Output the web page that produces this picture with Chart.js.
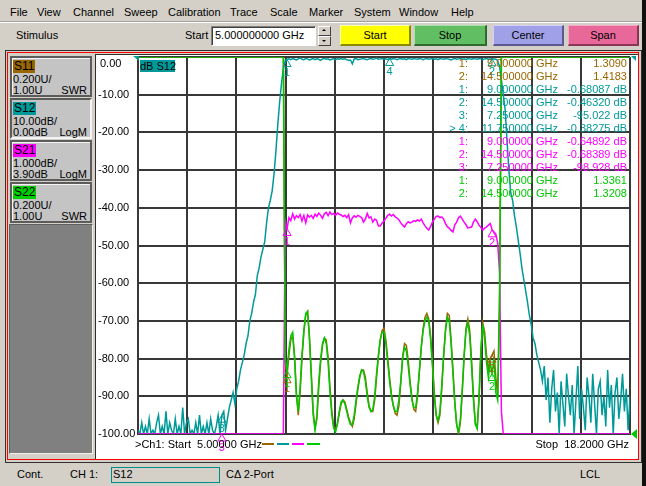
<!DOCTYPE html>
<html><head><meta charset="utf-8">
<script src="https://cdn.jsdelivr.net/npm/chart.js@4.4.0/dist/chart.umd.min.js"></script>
<style>
html,body{margin:0;padding:0;}
body{width:646px;height:486px;position:relative;overflow:hidden;background:#d4d0c8;font-family:"Liberation Sans",Arial,sans-serif;font-size:11px;color:#000;}
.a{position:absolute;white-space:pre;line-height:13px;}
.btn{position:absolute;top:25px;height:21px;box-sizing:border-box;text-align:center;line-height:19px;border:1px solid;border-width:1px 2px 2px 1px;}
.tb{position:absolute;left:10px;width:82px;height:41px;box-sizing:border-box;background:#c4c4c4;border:2px solid #5c5c5c;box-shadow:inset 1px 1px 0 #f4f4f4;}
.tb.on{border-color:#5c5c5c #f4f4f4 #f4f4f4 #5c5c5c;box-shadow:none;}
.tb .lab{position:absolute;left:1px;top:2px;height:13px;line-height:13px;padding:0 1px;font-size:12px;}
.tb .l2{position:absolute;left:1px;top:15px;line-height:12px;}
.tb .l3{position:absolute;left:1px;top:26px;line-height:12px;}
.tb .r3{position:absolute;right:3px;top:26px;line-height:12px;}
.mk{position:absolute;line-height:13px;white-space:pre;}
</style></head><body>

<!-- menu bar -->
<div class="a" style="left:10px;top:6px">File</div>
<div class="a" style="left:37px;top:6px">View</div>
<div class="a" style="left:73px;top:6px">Channel</div>
<div class="a" style="left:124px;top:6px">Sweep</div>
<div class="a" style="left:168px;top:6px">Calibration</div>
<div class="a" style="left:230px;top:6px">Trace</div>
<div class="a" style="left:270px;top:6px">Scale</div>
<div class="a" style="left:309px;top:6px">Marker</div>
<div class="a" style="left:354px;top:6px">System</div>
<div class="a" style="left:399px;top:6px">Window</div>
<div class="a" style="left:451px;top:6px">Help</div>
<div style="position:absolute;left:0;top:21px;width:646px;height:1px;background:#a0a0a0"></div>
<div style="position:absolute;left:0;top:22px;width:646px;height:1px;background:#fff"></div>

<!-- stimulus toolbar -->
<div class="a" style="left:16px;top:29px">Stimulus</div>
<div class="a" style="left:185px;top:29px">Start</div>
<div style="position:absolute;left:211px;top:26px;width:105px;height:20px;box-sizing:border-box;background:#fff;border:1px solid;border-color:#808080 #fff #fff #808080;box-shadow:inset 1px 1px 0 #404040"></div>
<div class="a" style="left:215px;top:29px">5.000000000 GHz</div>
<div style="position:absolute;left:318px;top:26px;width:13px;height:10px;box-sizing:border-box;background:#d4d0c8;border:1px solid;border-color:#fff #404040 #404040 #fff"></div>
<div style="position:absolute;left:318px;top:36px;width:13px;height:10px;box-sizing:border-box;background:#d4d0c8;border:1px solid;border-color:#fff #404040 #404040 #fff"></div>
<div style="position:absolute;left:322px;top:29px;width:0;height:0;border-left:2px solid transparent;border-right:2px solid transparent;border-bottom:2px solid #000"></div>
<div style="position:absolute;left:322px;top:40px;width:0;height:0;border-left:2px solid transparent;border-right:2px solid transparent;border-top:2px solid #000"></div>

<div class="btn" style="left:340px;width:71px;background:#ffff00;border-color:#ffffb0 #8a8a00 #8a8a00 #ffffb0">Start</div>
<div class="btn" style="left:414px;width:73px;background:#62be62;border-color:#a8e0a8 #2f6a2f #2f6a2f #a8e0a8">Stop</div>
<div class="btn" style="left:493px;width:71px;background:#a0a0e8;border-color:#d0d0f8 #5a5a90 #5a5a90 #d0d0f8">Center</div>
<div class="btn" style="left:568px;width:71px;background:#e8689a;border-color:#f8a8c8 #8a3458 #8a3458 #f8a8c8">Span</div>

<!-- window frame -->
<div style="position:absolute;left:5px;top:50px;width:637px;height:413px;box-sizing:border-box;border:1px solid #303030"></div>
<div style="position:absolute;left:7px;top:52px;width:632px;height:408px;box-sizing:border-box;border:1px solid #ff0000"></div>
<div style="position:absolute;left:642px;top:0;width:4px;height:486px;background:#101010"></div>

<!-- trace buttons -->
<div class="tb" style="top:56px"><div class="lab" style="background:#996600">S11</div><div class="l2">0.200U/</div><div class="l3">1.00U</div><div class="r3">SWR</div></div>
<div class="tb on" style="top:98px"><div class="lab" style="background:#009999">S12</div><div class="l2">10.00dB/</div><div class="l3">0.00dB</div><div class="r3">LogM</div></div>
<div class="tb" style="top:140px"><div class="lab" style="background:#ff00ff">S21</div><div class="l2">1.000dB/</div><div class="l3">3.90dB</div><div class="r3">LogM</div></div>
<div class="tb" style="top:182px"><div class="lab" style="background:#00d000">S22</div><div class="l2">0.200U/</div><div class="l3">1.00U</div><div class="r3">SWR</div></div>
<div style="position:absolute;left:9px;top:224px;width:84px;height:230px;box-sizing:border-box;background:#808080;border:1px solid;border-color:#606060 #f0f0f0 #f0f0f0 #606060"></div>

<!-- plot area -->
<div style="position:absolute;left:95px;top:54px;width:543px;height:405px;box-sizing:border-box;background:#fff;border-left:1px solid #303030;border-top:1px solid #303030"></div>
<canvas id="c" width="540" height="402" style="position:absolute;left:97px;top:55px"></canvas>

<div class="a" style="left:140px;top:60px;width:35px;height:12px;line-height:12px;background:#009999">dB S12</div>
<div id="mtable"></div>

<div class="a" style="left:135px;top:438px">&gt;Ch1: Start  5.00000 GHz</div>
<div style="position:absolute;left:262px;top:443px;width:12px;height:2px;background:#996600"></div>
<div style="position:absolute;left:277px;top:443px;width:12px;height:2px;background:#009999"></div>
<div style="position:absolute;left:292px;top:443px;width:12px;height:2px;background:#ff00ff"></div>
<div style="position:absolute;left:307px;top:443px;width:13px;height:2px;background:#00cc00"></div>
<div class="a" style="right:17px;top:438px">Stop  18.2000 GHz</div>

<!-- status bar -->
<div class="a" style="left:17px;top:468px">Cont.</div>
<div class="a" style="left:70px;top:468px">CH 1:</div>
<div style="position:absolute;left:111px;top:467px;width:109px;height:16px;box-sizing:border-box;border:1px solid #008b8b"></div>
<div class="a" style="left:113px;top:468px">S12</div>
<div class="a" style="left:226px;top:468px">CΔ 2-Port</div>
<div class="a" style="left:580px;top:468px">LCL</div>

<script>
// ---- sweep (stimulus) ----
const FREQ_START_GHZ = 5.0;
const FREQ_STEP_GHZ = 0.05;
const FREQ_POINTS = 265;            // 5.00 ... 18.20 GHz
const X_TICKS = [5.00, 6.32, 7.64, 8.96, 10.28, 11.60, 12.92, 14.24, 15.56, 16.88, 18.20];
const Y_TICKS = [0, -10, -20, -30, -40, -50, -60, -70, -80, -90, -100];

// ---- S12, LogM dB (10 dB/div, ref 0 dB at top); -100 = bottom of display ----
const S12_DB = [
  -99,-100,-97,-100,-98,-100,-96,-100,-99,-100,
  -97,-95,-100,-98,-100,-94,-100,-97,-99,-100,
  -96,-100,-98,-100,-93,-100,-97,-96,-100,-99,
  -100,-97,-100,-95,-100,-98,-100,-97,-100,-96,
  -99,-100,-98,-95,-100,-95,-94,-99,-96,-93,
  -91,-89,-92,-88,-86,-83,-81,-79,-76,-74,
  -70,-68,-65,-63,-58,-56,-53,-51,-49,-44,
  -40,-38,-35.5,-31,-25,-18,-12,-7,-3,-0.9,
  -0.68,-0.5,-0.7,-0.4,-0.6,-0.8,-0.5,-0.3,-0.6,-0.7,
  -0.4,-0.5,-0.8,-0.6,-0.4,-0.7,-0.5,-0.6,-0.9,-0.5,
  -0.4,-0.6,-0.5,-0.8,-0.6,-0.4,-0.7,-0.5,-0.6,-0.4,
  -0.6,-0.5,-0.7,-0.9,-0.8,-1.8,-0.5,-0.4,-0.7,-0.6,
  -0.5,-0.4,-0.6,-0.7,-0.5,-0.4,-0.6,-0.5,-0.3,-0.6,
  -0.5,-0.4,-0.6,-0.5,-0.7,-0.38,-0.6,-0.4,-0.5,-0.7,
  -0.5,-0.4,-0.6,-0.5,-0.7,-0.4,-0.5,-0.6,-0.4,-0.5,
  -0.6,-0.4,-0.5,-0.7,-0.5,-0.4,-0.6,-0.5,-0.4,-0.6,
  -0.5,-0.7,-0.4,-0.5,-0.6,-0.4,-0.5,-0.6,-0.8,-0.5,
  -0.4,-0.6,-0.5,-0.4,-0.6,-0.5,-0.7,-0.4,-0.5,-0.6,
  -0.4,-0.5,-0.6,-0.4,-0.5,-0.7,-0.5,-0.4,-0.6,-0.5,
  -0.46,-0.5,-0.6,-1.0,-2.5,-6,-10,-14,-22,-30,
  -36,-38,-42,-45,-48.5,-52,-56,-59,-62,-65,
  -68.5,-71,-74.5,-76,-79,-81,-83,-86,-82,-91,
  -85,-97,-88,-83,-94,-89,-100,-86,-92,-98,
  -84,-90,-95,-87,-100,-91,-82,-96,-88,-93,
  -99,-85,-90,-97,-84,-92,-100,-88,-86,-95,
  -90,-98,-83,-93,-87,-100,-89,-85,-96,-91,
  -84,-94,-88,-99,-90
];

// ---- S21, LogM dB (1 dB/div, ref 3.90 dB at top); -6.1 = bottom of display ----
const S21_DB = [
  -6.1,-6.1,-6.1,-6.1,-6.1,-6.1,-6.1,-6.1,-6.1,-6.1,
  -6.1,-6.1,-6.1,-6.1,-6.1,-6.1,-6.1,-6.1,-6.1,-6.1,
  -6.1,-6.1,-6.1,-6.1,-6.1,-6.1,-6.1,-6.1,-6.1,-6.1,
  -6.1,-6.1,-6.1,-6.1,-6.1,-6.1,-6.1,-6.1,-6.1,-6.1,
  -6.1,-6.1,-6.1,-6.1,-6.1,-6.1,-6.1,-6.1,-6.1,-6.1,
  -6.1,-6.1,-6.1,-6.1,-6.1,-6.1,-6.1,-6.1,-6.1,-6.1,
  -6.1,-6.1,-6.1,-6.1,-6.1,-6.1,-6.1,-6.1,-6.1,-6.1,
  -6.1,-6.1,-6.1,-6.1,-6.1,-6.1,-6.1,-6.1,-6.1,-0.45,
  -0.65,-0.36,-0.44,-0.26,-0.40,-0.31,-0.36,-0.28,-0.45,-0.30,
  -0.50,-0.29,-0.35,-0.30,-0.38,-0.27,-0.33,-0.24,-0.30,-0.38,
  -0.26,-0.22,-0.31,-0.21,-0.28,-0.25,-0.30,-0.24,-0.27,-0.29,
  -0.33,-0.30,-0.36,-0.28,-0.50,-0.37,-0.31,-0.35,-0.30,-0.33,
  -0.36,-0.48,-0.40,-0.25,-0.37,-0.34,-0.48,-0.40,-0.43,-0.58,
  -0.58,-0.50,-0.45,-0.38,-0.30,-0.27,-0.32,-0.28,-0.34,-0.37,
  -0.42,-0.50,-0.56,-0.61,-0.52,-0.47,-0.50,-0.48,-0.44,-0.46,
  -0.42,-0.45,-0.40,-0.50,-0.58,-0.64,-0.69,-0.60,-0.48,-0.40,
  -0.33,-0.32,-0.36,-0.34,-0.40,-0.52,-0.60,-0.64,-0.70,-0.74,
  -0.55,-0.48,-0.36,-0.32,-0.40,-0.48,-0.55,-0.64,-0.62,-0.61,
  -0.48,-0.40,-0.47,-0.56,-0.62,-0.69,-0.64,-0.61,-0.56,-0.52,
  -0.68,-0.74,-0.80,-1.03,-1.80,-5.50,-6.1,-6.1,-6.1,-6.1,
  -6.1,-6.1,-6.1,-6.1,-6.1,-6.1,-6.1,-6.1,-6.1,-6.1,
  -6.1,-6.1,-6.1,-6.1,-6.1,-6.1,-6.1,-6.1,-6.1,-6.1,
  -6.1,-6.1,-6.1,-6.1,-6.1,-6.1,-6.1,-6.1,-6.1,-6.1,
  -6.1,-6.1,-6.1,-6.1,-6.1,-6.1,-6.1,-6.1,-6.1,-6.1,
  -6.1,-6.1,-6.1,-6.1,-6.1,-6.1,-6.1,-6.1,-6.1,-6.1,
  -6.1,-6.1,-6.1,-6.1,-6.1,-6.1,-6.1,-6.1,-6.1,-6.1,
  -6.1,-6.1,-6.1,-6.1,-6.1
];

// ---- S11, SWR (0.2 U/div, ref 1.00 U at bottom); 3.0 = top of display ----
const S11_SWR = [
  3,3,3,3,3,3,3,3,3,3, 3,3,3,3,3,3,3,3,3,3,
  3,3,3,3,3,3,3,3,3,3, 3,3,3,3,3,3,3,3,3,3,
  3,3,3,3,3,3,3,3,3,3, 3,3,3,3,3,3,3,3,3,3,
  3,3,3,3,3,3,3,3,3,3, 3,3,3,3,3,3,3,3,3,1.38,
  1.31,1.42,1.50,1.52,1.42,1.22,1.10,1.22,1.40,1.54,
  1.63,1.65,1.52,1.32,1.12,1.03,1.08,1.25,1.38,1.47,
  1.51,1.50,1.41,1.25,1.12,1.04,1.02,1.05,1.11,1.16,
  1.18,1.17,1.13,1.09,1.06,1.04,1.08,1.16,1.24,1.30,
  1.34,1.34,1.30,1.22,1.15,1.12,1.12,1.18,1.30,1.41,
  1.50,1.55,1.56,1.50,1.40,1.30,1.21,1.15,1.11,1.10,
  1.15,1.27,1.41,1.48,1.47,1.39,1.28,1.19,1.13,1.12,
  1.20,1.33,1.46,1.56,1.62,1.64,1.61,1.52,1.38,1.22,
  1.10,1.06,1.10,1.24,1.41,1.55,1.64,1.63,1.50,1.34,
  1.17,1.05,1.00,1.06,1.22,1.41,1.56,1.61,1.55,1.39,
  1.20,1.06,1.03,1.18,1.44,1.59,1.54,1.42,1.34,1.40,
  1.42,1.44,1.30,1.20,1.75,3,3,3,3,3,
  3,3,3,3,3,3,3,3,3,3, 3,3,3,3,3,3,3,3,3,3,
  3,3,3,3,3,3,3,3,3,3, 3,3,3,3,3,3,3,3,3,3,
  3,3,3,3,3,3,3,3,3,3, 3,3,3,3,3,3,3,3,3,3,
  3,3,3,3,3
];

// ---- S22, SWR (0.2 U/div, ref 1.00 U at bottom); 3.0 = top of display ----
const S22_SWR = [
  3,3,3,3,3,3,3,3,3,3, 3,3,3,3,3,3,3,3,3,3,
  3,3,3,3,3,3,3,3,3,3, 3,3,3,3,3,3,3,3,3,3,
  3,3,3,3,3,3,3,3,3,3, 3,3,3,3,3,3,3,3,3,3,
  3,3,3,3,3,3,3,3,3,3, 3,3,3,3,3,3,3,3,3,1.40,
  1.34,1.45,1.52,1.54,1.40,1.20,1.12,1.25,1.42,1.55,
  1.64,1.65,1.50,1.30,1.10,1.02,1.10,1.28,1.40,1.48,
  1.51,1.48,1.38,1.22,1.10,1.03,1.01,1.06,1.12,1.17,
  1.18,1.16,1.12,1.08,1.05,1.05,1.10,1.18,1.25,1.31,
  1.34,1.33,1.28,1.20,1.14,1.12,1.13,1.20,1.32,1.42,
  1.50,1.54,1.54,1.48,1.38,1.28,1.20,1.15,1.12,1.12,
  1.18,1.28,1.40,1.46,1.44,1.36,1.26,1.18,1.14,1.14,
  1.22,1.34,1.46,1.55,1.60,1.62,1.60,1.50,1.36,1.20,
  1.10,1.07,1.12,1.26,1.42,1.55,1.62,1.60,1.48,1.32,
  1.16,1.05,1.01,1.08,1.24,1.42,1.55,1.59,1.52,1.36,
  1.18,1.05,1.03,1.20,1.45,1.58,1.50,1.38,1.30,1.38,
  1.32,1.40,1.22,1.18,1.65,3,3,3,3,3,
  3,3,3,3,3,3,3,3,3,3, 3,3,3,3,3,3,3,3,3,3,
  3,3,3,3,3,3,3,3,3,3, 3,3,3,3,3,3,3,3,3,3,
  3,3,3,3,3,3,3,3,3,3, 3,3,3,3,3,3,3,3,3,3,
  3,3,3,3,3
];

// ---- marker readouts ----
const MARKER_TRACES = ['S11','S11','S12','S12','S12','S12','S21','S21','S21','S22','S22'];
const MARKER_IDS    = ['1:','2:','1:','2:','3:','> 4:','1:','2:','3:','1:','2:'];
const MARKER_FREQS  = [9.0, 14.5, 9.0, 14.5, 7.25, 11.75, 9.0, 14.5, 7.25, 9.0, 14.5];
const MARKER_VALUES = [1.3090, 1.4183, -0.68087, -0.46320, -95.022, -0.38275, -0.64892, -0.68389, -98.928, 1.3361, 1.3208];
const MARKER_TEXTS  = ['1.3090','1.4183','-0.68087 dB','-0.46320 dB','-95.022 dB','-0.38275 dB','-0.64892 dB','-0.68389 dB','-98.928 dB','1.3361','1.3208'];

const COLORS = { S11:'#996600', S12:'#009999', S21:'#ff00ff', S22:'#00c800' };
const AXIS_OF = { S11:'ySWR', S12:'y', S21:'y21', S22:'ySWR' };

const FREQ_GHZ = [];
for (let i = 0; i < FREQ_POINTS; i++) FREQ_GHZ.push(+(FREQ_START_GHZ + i * FREQ_STEP_GHZ).toFixed(2));
const toPts = vals => vals.map((v, i) => ({ x: FREQ_GHZ[i], y: v }));

// marker readout table (HTML text)
(function () {
  const host = document.getElementById('mtable');
  let html = '';
  MARKER_TRACES.forEach((t, i) => {
    const top = 57 + 13 * i;
    const c = COLORS[t];
    const f = MARKER_FREQS[i].toFixed(6) + ' GHz';
    html += `<div class="mk" style="right:${646-468}px;top:${top}px;color:${c}">${MARKER_IDS[i].replace('>','&gt;')}</div>`;
    html += `<div class="mk" style="right:${646-558}px;top:${top}px;color:${c}">${f}</div>`;
    html += `<div class="mk" style="right:${646-627}px;top:${top}px;color:${c}">${MARKER_TEXTS[i]}</div>`;
  });
  host.innerHTML = html;
})();

const instrumentPlugin = {
  id: 'instrument',
  afterDraw(chart) {
    const { ctx, chartArea: ca, scales } = chart;
    ctx.save();
    // y labels (S12 dB scale)
    ctx.font = '11px "Liberation Sans", Arial, sans-serif';
    ctx.fillStyle = '#000';
    ctx.textAlign = 'left';
    ctx.textBaseline = 'middle';
    Y_TICKS.forEach(v => {
      let y = scales.y.getPixelForValue(v);
      if (y < ca.top + 7) y = ca.top + 7;
      ctx.fillText(v.toFixed(2), v < 0 ? 1 : 3, y);
    });
    // markers
    ctx.lineWidth = 1;
    ctx.textAlign = 'center';
    ctx.textBaseline = 'top';
    MARKER_TRACES.forEach((t, i) => {
      const ax = scales[AXIS_OF[t]];
      const v = Math.max(ax.min, Math.min(ax.max, MARKER_VALUES[i]));
      const x = scales.x.getPixelForValue(MARKER_FREQS[i]);
      const y = ax.getPixelForValue(v);
      ctx.strokeStyle = COLORS[t];
      ctx.fillStyle = COLORS[t];
      ctx.beginPath();
      ctx.moveTo(x, y); ctx.lineTo(x - 4, y + 7); ctx.lineTo(x + 4, y + 7); ctx.closePath();
      ctx.stroke();
      ctx.fillText(MARKER_IDS[i].replace('> ', '').replace(':', ''), x, y + 8);
    });
    // reference position indicators
    ctx.fillStyle = COLORS.S12;
    ctx.beginPath();
    ctx.moveTo(ca.left - 5, ca.top - 1); ctx.lineTo(ca.left + 1, ca.top - 1); ctx.lineTo(ca.left + 1, ca.top + 4); ctx.closePath(); ctx.fill();
    ctx.beginPath();
    ctx.moveTo(ca.right + 1, ca.top - 1); ctx.lineTo(ca.right + 6, ca.top - 1); ctx.lineTo(ca.right + 6, ca.top + 4); ctx.closePath(); ctx.fill();
    ctx.fillStyle = COLORS.S22;
    const yb = scales.ySWR.getPixelForValue(1.0);
    ctx.beginPath();
    ctx.moveTo(ca.right + 1, yb); ctx.lineTo(ca.right + 7, yb - 5); ctx.lineTo(ca.right + 7, yb + 5); ctx.closePath(); ctx.fill();
    ctx.restore();
  }
};

const GRID = '#383838';
const ds = (label, vals, axis, order) => ({
  label, data: toPts(vals), yAxisID: axis, order,
  borderColor: COLORS[label], borderWidth: 1.5, pointRadius: 0, tension: 0, fill: false
});

new Chart(document.getElementById('c'), {
  type: 'line',
  data: {
    datasets: [
      ds('S11', S11_SWR, 'ySWR', 4),
      ds('S12', S12_DB, 'y', 3),
      ds('S21', S21_DB, 'y21', 2),
      ds('S22', S22_SWR, 'ySWR', 1)
    ]
  },
  options: {
    responsive: false,
    animation: false,
    devicePixelRatio: 1,
    layout: { padding: { left: 41, top: 2, right: 7, bottom: 23 } },
    plugins: { legend: { display: false }, tooltip: { enabled: false } },
    scales: {
      x: {
        type: 'linear', min: 5, max: 18.2,
        afterBuildTicks: s => { s.ticks = X_TICKS.map(v => ({ value: v })); },
        afterFit: s => { s.height = 0; },
        ticks: { display: false },
        grid: { color: GRID, lineWidth: 2, drawTicks: false },
        border: { display: true, color: GRID, width: 2 }
      },
      y: {
        type: 'linear', position: 'left', min: -100, max: 0,
        afterBuildTicks: s => { s.ticks = Y_TICKS.map(v => ({ value: v })); },
        afterFit: s => { s.width = 0; },
        ticks: { display: false },
        grid: { color: GRID, lineWidth: 2, drawTicks: false },
        border: { display: true, color: GRID, width: 2 }
      },
      y21: { type: 'linear', min: -6.1, max: 3.9, display: false },
      ySWR: { type: 'linear', min: 1.0, max: 3.0, display: false }
    }
  },
  plugins: [instrumentPlugin]
});
</script>
</body></html>
